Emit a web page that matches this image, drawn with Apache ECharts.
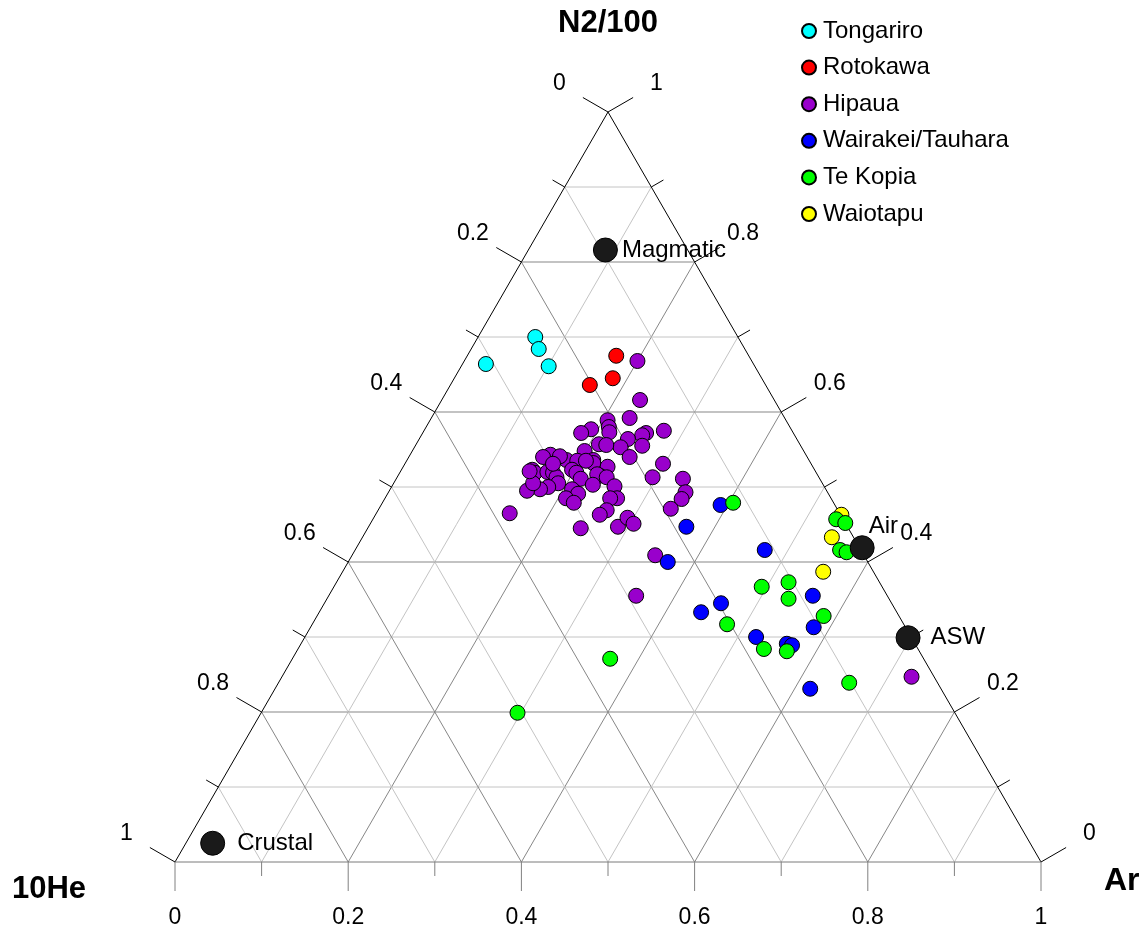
<!DOCTYPE html>
<html><head><meta charset="utf-8">
<script src="https://cdn.jsdelivr.net/npm/echarts@6/dist/echarts.min.js"></script>
<style>html,body{margin:0;padding:0;background:#fff}#c{width:1147px;height:931px}</style>
</head><body><div id="c"></div>
<script>
// Ternary compositions: each point is [N2/100 fraction, Ar fraction]; 10He fraction = 1 - N2 - Ar
const tongariro = [[0.700,0.066],[0.684,0.078],[0.661,0.101],[0.664,0.027]];
const rotokawa = [[0.675,0.172],[0.645,0.183],[0.636,0.161]];
const hipaua = [
  [0.668,0.200],[0.616,0.229],[0.592,0.229],[0.589,0.205],[0.580,0.211],[0.573,0.215],
  [0.577,0.192],[0.572,0.183],[0.575,0.277],[0.572,0.258],[0.569,0.255],[0.555,0.262],
  [0.564,0.241],[0.553,0.238],[0.540,0.255],[0.531,0.298],[0.557,0.211],[0.556,0.220],
  [0.548,0.199],[0.536,0.215],[0.527,0.236],[0.536,0.184],[0.535,0.197],[0.513,0.295],
  [0.543,0.162],[0.540,0.155],[0.541,0.174],[0.523,0.151],[0.519,0.156],[0.520,0.170],
  [0.519,0.177],[0.513,0.184],[0.505,0.190],[0.500,0.181],[0.497,0.173],[0.495,0.159],
  [0.505,0.161],[0.523,0.197],[0.519,0.204],[0.511,0.213],[0.532,0.217],[0.535,0.207],
  [0.515,0.233],[0.517,0.229],[0.513,0.242],[0.503,0.231],[0.501,0.257],[0.485,0.268],
  [0.485,0.260],[0.469,0.264],[0.463,0.259],[0.497,0.210],[0.491,0.220],[0.485,0.209],
  [0.479,0.221],[0.465,0.154],[0.445,0.246],[0.447,0.288],[0.459,0.293],[0.451,0.304],
  [0.511,0.331],[0.493,0.343],[0.484,0.343],[0.471,0.337],[0.409,0.350],[0.355,0.355],
  [0.247,0.727],[0.531,0.171],[0.521,0.149]
];
const wairakei = [[0.476,0.392],[0.447,0.367],[0.416,0.473],[0.400,0.369],[0.345,0.458],[0.333,0.441],
  [0.355,0.559],[0.313,0.581],[0.300,0.521],[0.291,0.561],[0.289,0.568],[0.231,0.618]];
const teKopia = [[0.479,0.405],[0.457,0.535],[0.452,0.548],[0.416,0.560],[0.413,0.569],[0.367,0.494],
  [0.373,0.522],[0.351,0.533],[0.328,0.585],[0.317,0.479],[0.284,0.538],[0.281,0.566],
  [0.239,0.659],[0.271,0.367],[0.199,0.296]];
const waiotapu = [[0.463,0.538],[0.433,0.542],[0.387,0.555]];
const endMembers = [
  {name:'Magmatic', v:[0.816,0.089]},
  {name:'Air', v:[0.419,0.584]},
  {name:'ASW', v:[0.299,0.697]},
  {name:'Crustal', v:[0.025,0.031]}
];
const seriesNames = ['Tongariro','Rotokawa','Hipaua','Wairakei/Tauhara','Te Kopia','Waiotapu'];
const seriesColors = ['#00ffff','#ff0000','#9900cc','#0000ff','#00ff00','#ffff00'];
const gridSteps = [0.1,0.2,0.3,0.4,0.5,0.6,0.7,0.8,0.9];
const tickSteps = [0,0.1,0.2,0.3,0.4,0.5,0.6,0.7,0.8,0.9,1];
const tickLabels = ['0','0.2','0.4','0.6','0.8','1'];

const H = Math.sqrt(3)/2;
function xy(n2, ar){ return [ar + n2/2, n2*H]; }
const FONT = "'Liberation Sans', Arial, sans-serif";

// grid lines
const gridLines = [];
gridSteps.forEach((v,i) => {
  const major = (i % 2 === 1) ? 1 : 0;
  gridLines.push([...xy(v,0), ...xy(v,1-v), major]);      // N2 const
  gridLines.push([...xy(0,v), ...xy(1-v,v), major]);      // Ar const
  gridLines.push([...xy(0,1-v), ...xy(1-v,0), major]);    // He const
});
const edges = [
  [...xy(0,0), ...xy(1,0), 0],   // left edge
  [...xy(1,0), ...xy(0,1), 0],   // right edge
  [...xy(0,0), ...xy(0,1), 1]    // bottom edge
];
// ticks
const c30 = Math.cos(Math.PI/6), s30 = 0.5;
const ticks = [];
tickSteps.forEach((v,i) => {
  const major = i % 2 === 0;
  const lab = major ? tickLabels[i/2] : '';
  ticks.push({p: xy(0, v), d:[0,1], major, lab, col:'#808080'});              // bottom: Ar
  ticks.push({p: xy(1-v, 0), d:[-c30,-s30], major, lab, col:'#000'});         // left: 10He
  ticks.push({p: xy(v, 1-v), d:[c30,-s30], major, lab, col:'#000'});          // right: N2/100
});

function lineRender(colorFn){
  return function(params, api){
    const a = api.coord([api.value(0), api.value(1)]);
    const b = api.coord([api.value(2), api.value(3)]);
    return {type:'line', shape:{x1:a[0],y1:a[1],x2:b[0],y2:b[1]},
      style:{stroke: colorFn(api.value(4)), lineWidth:1}};
  };
}

const series = [
  {type:'custom', silent:true, clip:false, z:1, data: gridLines,
   encode:{x:[0,2], y:[1,3]},
   renderItem: lineRender(m => m ? '#878787' : '#c4c4c4')},
  {type:'custom', silent:true, clip:false, z:2, data: edges,
   encode:{x:[0,2], y:[1,3]},
   renderItem: lineRender(m => m ? '#7a7a7a' : '#000')},
  {type:'custom', silent:true, clip:false, z:2, data: ticks.map(t => t.p),
   renderItem: function(params, api){
     const t = ticks[params.dataIndex];
     const a = api.coord(t.p);
     const len = t.major ? 29 : 14;
     const children = [{type:'line', shape:{x1:a[0],y1:a[1],x2:a[0]+t.d[0]*len,y2:a[1]+t.d[1]*len},
       style:{stroke:t.col, lineWidth:1}}];
     if (t.lab) children.push({type:'text', x:a[0]+t.d[0]*56, y:a[1]+t.d[1]*56,
       style:{text:t.lab, font:'23px '+FONT, fill:'#000', align:'center', verticalAlign:'middle'}});
     return {type:'group', children};
   }}
];
const dataSets = [tongariro, rotokawa, hipaua, wairakei, teKopia, waiotapu];
const zOrder = [10,11,12,13,15,14];
dataSets.forEach((arr, i) => {
  series.push({type:'scatter', name: seriesNames[i], z: zOrder[i], symbol:'circle', symbolSize:15,
    itemStyle:{color: seriesColors[i], borderColor:'#000', borderWidth:1, opacity:1},
    data: arr.map(p => xy(p[0], p[1]))});
});
series.push({type:'scatter', name:'end members', z:20, symbol:'circle', symbolSize:24,
  itemStyle:{color:'#1a1a1a', borderColor:'#000', borderWidth:1, opacity:1},
  label:{show:true, position:'right', distance:4, color:'#000', fontSize:24, fontFamily:FONT,
    formatter: p => p.name},
  data: endMembers.map(e => {
    const o = {name:e.name, value: xy(e.v[0], e.v[1])};
    if (e.name === 'Air') o.label = {offset:[-10,-21]};
    if (e.name === 'ASW') o.label = {distance:10};
    if (e.name === 'Crustal') o.label = {distance:12};
    return o;
  })});

const chart = echarts.init(document.getElementById('c'), null, {renderer:'canvas'});
chart.setOption({
  animation:false,
  backgroundColor:'#fff',
  title:[
    {text:'N2/100', left:608, top:8, textAlign:'center', padding:0,
     textStyle:{fontSize:31, fontWeight:'bold', fontFamily:FONT, color:'#000'}},
    {text:'10He', left:12, top:874, padding:0,
     textStyle:{fontSize:31, fontWeight:'bold', fontFamily:FONT, color:'#000'}},
    {text:'Ar', left:1104, top:865, padding:0,
     textStyle:{fontSize:32, fontWeight:'bold', fontFamily:FONT, color:'#000'}}
  ],
  legend:{orient:'vertical', left:796, top:14, itemWidth:14, itemHeight:14, itemGap:12.6,
    icon:'circle', data: seriesNames, selectedMode:false,
    textStyle:{fontSize:24, fontFamily:FONT, color:'#000', lineHeight:24, padding:[0,0,0,2]}},
  grid:{left:175, top:112, width:866, height:750},
  xAxis:{type:'value', min:0, max:1, show:false},
  yAxis:{type:'value', min:0, max:H, show:false},
  series
});
</script></body></html>
